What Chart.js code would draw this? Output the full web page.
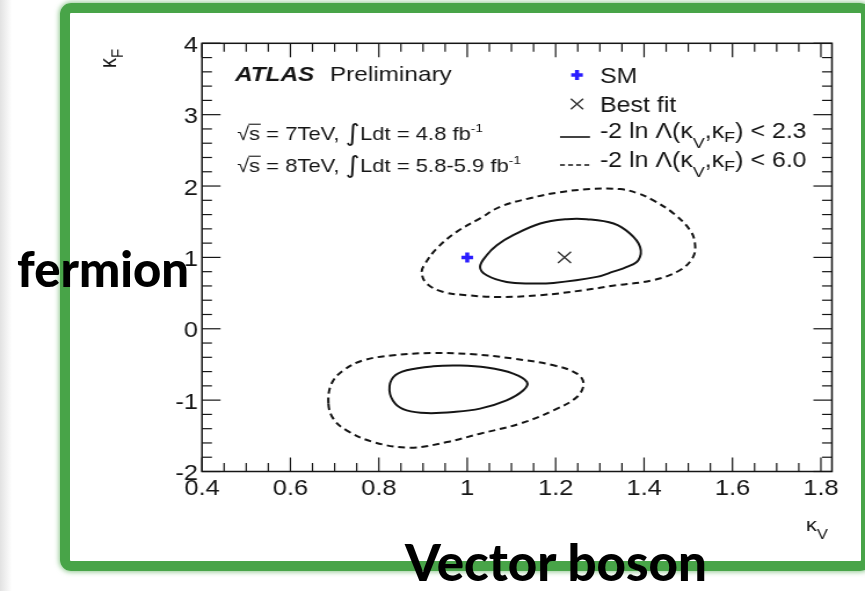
<!DOCTYPE html>
<html>
<head>
<meta charset="utf-8">
<script src="https://cdn.jsdelivr.net/npm/chart.js@4.4.1/dist/chart.umd.min.js"></script>
<style>
  html, body { margin: 0; padding: 0; background: #fff; width: 865px; height: 591px; overflow: hidden; }
  #edge { position: absolute; left: 0; top: 0; width: 12px; height: 591px; background: linear-gradient(to right, #e2e2e2, #fff); }
  /* the ROOT-style plot is rendered narrower and stretched sideways */
  #wrap { position: absolute; left: 0; top: 0; width: 746px; height: 591px; transform: scaleX(1.1595); transform-origin: 0 0; }
  #frame { position: absolute; left: 60px; top: 3px; width: 811px; height: 568px; box-sizing: border-box;
           border: 10px solid #48a448; border-radius: 11px; box-shadow: 0 0 5px 1px rgba(72,164,72,0.6); }
  .note { position: absolute; font-family: Lato, "DejaVu Sans", sans-serif; font-weight: 900; color: #000;
          white-space: nowrap; line-height: 1; }
</style>
</head>
<body>
<div id="edge"></div>
<div id="wrap"><canvas id="c" width="746" height="591"></canvas></div>
<div id="frame"></div>
<div class="note" style="left:17px; top:244px; font-size:49px;">fermion</div>
<div class="note" style="left:405px; top:536px; font-size:51px;">Vector boson</div>

<script>
// ---- axis ticks ----
const xTickValues = [0.4, 0.6, 0.8, 1.0, 1.2, 1.4, 1.6, 1.8];
const xTickLabels = ['0.4', '0.6', '0.8', '1', '1.2', '1.4', '1.6', '1.8'];
const yTickValues = [-2, -1, 0, 1, 2, 3, 4];
const yTickLabels = ['-2', '-1', '0', '1', '2', '3', '4'];

// ---- -2 ln Λ < 2.3 contour, positive κF solution ----
const upInnerKV = [1.029, 1.044, 1.067, 1.104, 1.165, 1.225, 1.270, 1.331, 1.368, 1.391, 1.387, 1.361, 1.330, 1.293, 1.195, 1.142, 1.089, 1.044];
const upInnerKF = [0.867, 1.031, 1.171, 1.311, 1.475, 1.536, 1.536, 1.475, 1.335, 1.147, 0.961, 0.867, 0.800, 0.727, 0.642, 0.634, 0.656, 0.750];
// ---- -2 ln Λ < 6.0 contour, positive κF solution ----
const upOuterKV = [0.897, 0.905, 0.931, 0.976, 1.029, 1.074, 1.142, 1.210, 1.278, 1.346, 1.385, 1.420, 1.466, 1.504, 1.515, 1.511, 1.481, 1.420, 1.338, 1.263, 1.165, 1.074, 0.999, 0.946, 0.908];
const upOuterKF = [0.797, 0.914, 1.125, 1.358, 1.546, 1.708, 1.830, 1.914, 1.957, 1.957, 1.900, 1.802, 1.620, 1.381, 1.199, 1.007, 0.820, 0.680, 0.610, 0.540, 0.470, 0.446, 0.470, 0.516, 0.634];
// ---- -2 ln Λ < 2.3 contour, negative κF solution ----
const loInnerKV = [0.824, 0.833, 0.863, 0.923, 0.984, 1.044, 1.104, 1.135, 1.127, 1.089, 1.029, 0.969, 0.908, 0.863, 0.837];
const loInnerKF = [-0.862, -0.676, -0.582, -0.526, -0.516, -0.544, -0.628, -0.746, -0.862, -1.003, -1.119, -1.167, -1.181, -1.143, -1.049];
// ---- -2 ln Λ < 6.0 contour, negative κF solution ----
const loOuterKV = [0.686, 0.693, 0.720, 0.765, 0.833, 0.923, 1.014, 1.104, 1.195, 1.248, 1.263, 1.248, 1.195, 1.119, 1.029, 0.954, 0.871, 0.788, 0.727, 0.697];
const loOuterKF = [-1.049, -0.769, -0.582, -0.442, -0.372, -0.339, -0.358, -0.418, -0.512, -0.628, -0.769, -0.956, -1.143, -1.330, -1.470, -1.588, -1.666, -1.588, -1.424, -1.259];

// ---- markers ----
const smKV = [1.0], smKF = [1.0];
const bestKV = [1.22], bestKF = [1.0];

const S = 865 / 746;              // sideways stretch applied to the canvas
const X = px => px / S;           // page x -> canvas x
const FONT = '"Liberation Sans", Arial, Helvetica, sans-serif';
const INK = '#151515';
const SM_BLUE = '#2a1cff';

// closed ring: pad with wrap-around neighbours so the spline joins smoothly
function ring(vs, fs) {
  const p = vs.map((v, i) => ({ x: v, y: fs[i] }));
  return [p[p.length - 1], ...p, p[0], p[1]];
}
function contour(vs, fs, dash) {
  const data = ring(vs, fs);
  const last = data.length - 2;
  return {
    data, showLine: true, fill: false, tension: 0.38,
    borderColor: INK, borderWidth: 2, borderDash: dash,
    pointRadius: 0, pointHoverRadius: 0,
    segment: { borderColor: c => (c.p0DataIndex === 0 || c.p0DataIndex === last) ? 'rgba(0,0,0,0)' : undefined }
  };
}

function rich(ctx, x, y, size, parts) {
  for (const [t, k = 1, dy = 0, st = '', fam = FONT] of parts) {
    ctx.font = `${st} ${size * k}px ${fam}`;
    ctx.fillText(t, x, y + dy);
    x += ctx.measureText(t).width;
  }
  return x;
}

function sqrtS(ctx, x, y, size) {
  ctx.font = `${size}px ${FONT}`;
  ctx.fillText('\u221A', x, y);
  const xs = x + ctx.measureText('\u221A').width;
  ctx.fillText('s', xs, y);
  const xe = xs + ctx.measureText('s').width;
  ctx.beginPath();
  ctx.lineWidth = 1.1;
  ctx.moveTo(xs - 0.5, y - size * 0.83);
  ctx.lineTo(xe + 0.5, y - size * 0.83);
  ctx.stroke();
  return xe;
}

const rootFrame = {
  id: 'rootFrame',
  afterDraw(chart) {
    const { ctx, chartArea: a, scales: { x, y } } = chart;
    ctx.save();
    ctx.strokeStyle = INK;
    ctx.fillStyle = INK;

    // frame
    ctx.lineWidth = 1.5;
    ctx.strokeRect(a.left, a.top, a.right - a.left, a.bottom - a.top);

    // inward tick marks on all four sides
    const seg = (x1, y1, x2, y2) => { ctx.beginPath(); ctx.moveTo(x1, y1); ctx.lineTo(x2, y2); ctx.stroke(); };
    ctx.lineWidth = 1.2;
    xTickValues.forEach((v, i) => {
      const p = x.getPixelForValue(v);
      seg(p, a.bottom, p, a.bottom - 14);
      seg(p, a.top, p, a.top + 14);
      for (let k = 1; k < 4; k++) {
        const q = x.getPixelForValue(v + 0.05 * k);
        if (q < a.right - 1) {
          seg(q, a.bottom, q, a.bottom - 8.5);
          seg(q, a.top, q, a.top + 8.5);
        }
      }
    });
    yTickValues.forEach(v => {
      const p = y.getPixelForValue(v);
      seg(a.left, p, a.left + 16, p);
      seg(a.right, p, a.right - 16, p);
      if (v < 4) {
        for (let k = 1; k < 5; k++) {
          const q = y.getPixelForValue(v + 0.2 * k);
          seg(a.left, q, a.left + 8.6, q);
          seg(a.right, q, a.right - 8.6, q);
        }
      }
    });

    ctx.textAlign = 'left';
    ctx.textBaseline = 'alphabetic';

    // ATLAS Preliminary
    rich(ctx, X(235), 81, 21, [['ATLAS', 1, 0, 'italic bold']]);
    rich(ctx, X(330), 81, 21, [['Preliminary']]);

    // luminosity lines
    [[140, '7TeV, ', '4.8 fb'], [172, '8TeV, ', '5.8-5.9 fb']].forEach(([by, e, lum]) => {
      let cx = sqrtS(ctx, X(237), by, 19);
      cx = rich(ctx, cx, by, 19, [[' = ' + e], ['\u222B', 1.25, 1, '', '"DejaVu Sans", sans-serif'], ['Ldt = ' + lum], ['-1', 0.62, -8]]);
    });

    // legend
    const mx = X(577);
    ctx.strokeStyle = SM_BLUE; ctx.lineWidth = 3.5;
    Chart.helpers.drawPoint(ctx, { pointStyle: 'cross', radius: 5, borderWidth: 3.5, rotation: 0 }, mx, 75);
    ctx.strokeStyle = '#333'; ctx.lineWidth = 1.4;
    Chart.helpers.drawPoint(ctx, { pointStyle: 'crossRot', radius: 7.5, borderWidth: 1.4, rotation: 0 }, mx, 104);
    ctx.strokeStyle = INK; ctx.lineWidth = 1.6;
    seg(X(560), 137, X(590), 137);
    ctx.setLineDash([4.2, 2.8]);
    seg(X(560), 165, X(590), 165);
    ctx.setLineDash([]);

    const tx = X(600);
    rich(ctx, tx, 83, 21.5, [['SM']]);
    rich(ctx, tx, 112, 21.5, [['Best fit']]);
    [[138, '2.3'], [167, '6.0']].forEach(([by, cut]) => {
      rich(ctx, tx, by, 21.5, [['-2 ln \u039B(\u03BA'], ['V', 0.72, 10], [',\u03BA'], ['F', 0.72, 4], [') < ' + cut]]);
    });

    // axis titles
    ctx.textAlign = 'left';
    rich(ctx, X(806), 531, 19, [['\u03BA'], ['V', 0.75, 8]]);
    ctx.save();
    ctx.translate(X(116), 68);
    ctx.rotate(-Math.PI / 2);
    rich(ctx, 0, 0, 20, [['\u03BA'], ['F', 0.75, 6]]);
    ctx.restore();

    ctx.restore();
  }
};

new Chart(document.getElementById('c'), {
  type: 'scatter',
  data: {
    datasets: [
      contour(upOuterKV, upOuterKF, [6, 4]),
      contour(upInnerKV, upInnerKF, []),
      contour(loOuterKV, loOuterKF, [6, 4]),
      contour(loInnerKV, loInnerKF, []),
      { data: smKV.map((v, i) => ({ x: v, y: smKF[i] })), pointStyle: 'cross', pointRadius: 5,
        pointBorderWidth: 3.5, borderColor: SM_BLUE, backgroundColor: SM_BLUE },
      { data: bestKV.map((v, i) => ({ x: v, y: bestKF[i] })), pointStyle: 'crossRot', pointRadius: 8,
        pointBorderWidth: 1.4, borderColor: '#333', backgroundColor: '#333' }
    ]
  },
  options: {
    responsive: false,
    animation: false,
    events: [],
    devicePixelRatio: 1,
    layout: { padding: { left: 174.2 - 40, right: 746 - 717.5, top: 43.3, bottom: 591 - 471.5 - 40 } },
    plugins: { legend: { display: false }, tooltip: { enabled: false } },
    scales: {
      x: {
        type: 'linear', min: 0.4, max: 1.825,
        grid: { display: false }, border: { display: false },
        afterBuildTicks: s => { s.ticks = xTickValues.map(v => ({ value: v })); },
        afterFit: s => { s.height = 40; },
        ticks: { autoSkip: false, maxRotation: 0, padding: -4, color: INK,
                 font: { family: FONT, size: 22 }, callback: (v, i) => xTickLabels[i] }
      },
      y: {
        type: 'linear', min: -2, max: 4,
        grid: { display: false }, border: { display: false },
        afterBuildTicks: s => { s.ticks = yTickValues.map(v => ({ value: v })); },
        afterFit: s => { s.width = 40; },
        ticks: { autoSkip: false, padding: -4.5, labelOffset: 2.5, color: INK,
                 font: { family: FONT, size: 22 }, callback: (v, i) => yTickLabels[i] }
      }
    }
  },
  plugins: [rootFrame]
});
</script>
</body>
</html>
